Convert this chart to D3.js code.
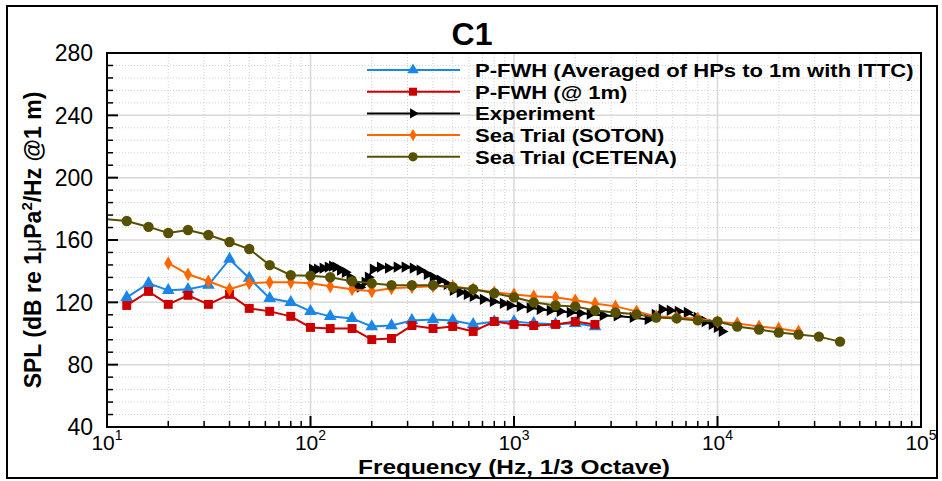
<!DOCTYPE html>
<html lang="en">
<head>
<meta charset="UTF-8">
<title>C1</title>
<script src="https://d3js.org/d3.v7.min.js"></script>
<style>
    body { margin: 0; background: #fff; }
    svg { display: block; font-family: "Liberation Sans", Arial, sans-serif; }
    .tick-label { font-size: 23px; fill: #000; }
    .legend text { font-size: 19px; font-weight: bold; }
</style>
</head>
<body>
<script>
// Third-octave band data
const fwhAvgFreq = [12.5, 16, 20, 25, 31.5, 40, 50, 63, 80, 100, 125, 160, 200, 250, 315, 400, 500, 630, 800, 1000, 1250, 1600, 2000, 2500];
const fwhAvgDb = [123.2, 132.2, 127.7, 128.4, 131, 147.7, 135.5, 122.6, 120, 114.2, 111, 109.7, 104.5, 105.1, 108.4, 109, 108.4, 105.8, 107.7, 107.7, 106.5, 106, 106.5, 104.5];

const fwh1mFreq = [12.5, 16, 20, 25, 31.5, 40, 50, 63, 80, 100, 125, 160, 200, 250, 315, 400, 500, 630, 800, 1000, 1250, 1600, 2000, 2500];
const fwh1mDb = [118, 127, 118.7, 124.5, 118.7, 125.1, 116.1, 114.2, 111, 103.9, 103.2, 103.2, 96.1, 96.8, 105.1, 103.2, 104.5, 101.3, 107.7, 105.8, 105.1, 105.8, 107.7, 105.8];

const expFreq = [102, 108, 115, 122, 128, 133, 140, 148, 156, 162, 169, 175, 185, 192, 203, 220, 241, 266, 291, 319, 345, 374, 400, 433, 469, 502, 543, 588, 629, 705, 789, 884, 956, 1070, 1198, 1342, 1503, 1683, 1884, 2110, 2363, 2736, 3205, 3843, 4552, 4929, 5335, 5842, 6397, 7085, 7932, 8684, 9399, 9948, 10520];
const expDb = [141.3, 141.3, 141.9, 142.6, 143.2, 142.6, 140.6, 139.3, 136.1, 132.9, 130.3, 129.7, 132.9, 136.1, 141.3, 142.6, 141.9, 142.6, 142.6, 141.9, 140.6, 138, 136.1, 134.2, 131.6, 127.7, 126.4, 125.1, 123.9, 121.9, 120.6, 119.3, 118, 117.4, 116.5, 115.5, 114.8, 114.2, 113.5, 113, 112.5, 111.6, 111.3, 110.3, 109, 112.2, 115.5, 114.8, 114.2, 113.5, 110.3, 107.7, 105.8, 103.9, 101.3];

const sotonFreq = [20, 25, 31.5, 40, 50, 63, 80, 100, 125, 160, 200, 250, 315, 400, 500, 630, 800, 1000, 1250, 1600, 2000, 2500, 3150, 4000, 5000, 6300, 8000, 10000, 12500, 16000, 20000, 25000];
const sotonDb = [145.1, 138, 133.5, 128.4, 132.2, 132.9, 132.9, 132.2, 130.3, 128.4, 127.1, 129, 129.7, 130.3, 130.3, 128.4, 126.4, 125.1, 123.9, 123.2, 121.3, 119.3, 117.4, 114.2, 111, 110.3, 109.7, 107.5, 106.5, 104.5, 103.2, 101.3];

const cetenaFreq = [8, 12.5, 16, 20, 25, 31.5, 40, 50, 63, 80, 100, 125, 160, 200, 250, 315, 400, 500, 630, 800, 1000, 1250, 1600, 2000, 2500, 3150, 4000, 5000, 6300, 8000, 10000, 12500, 16000, 20000, 25000, 31500, 40000];
const cetenaDb = [174.5, 172.2, 168.4, 164.5, 166.4, 163.2, 158.7, 154.2, 143.9, 137.4, 137.1, 136.1, 133.5, 132.2, 131, 131, 131, 129.7, 128.4, 125.8, 123.2, 120, 118, 117.4, 114.8, 113.5, 112.3, 110.3, 109.7, 108.4, 107.7, 104.5, 102.6, 100.6, 99.3, 98, 94.8];

const yTicks = [40, 80, 120, 160, 200, 240, 280];
const xDecades = [10, 100, 1000, 10000, 100000];

const width = 942;
const height = 481;
const margin = { top: 53, right: 21, bottom: 54, left: 107 };

const x = d3.scaleLog().domain([10, 100000]).range([margin.left, width - margin.right]);
const y = d3.scaleLinear().domain([40, 280]).range([height - margin.bottom, margin.top]);

const series = [
    { name: "P-FWH (Averaged of HPs to 1m with ITTC)", freq: fwhAvgFreq, db: fwhAvgDb, color: "#1a86e8", marker: "tri", size: 70 },
    { name: "P-FWH (@ 1m)", freq: fwh1mFreq, db: fwh1mDb, color: "#cc0000", marker: "square", size: 80 },
    { name: "Experiment", freq: expFreq, db: expDb, color: "#000000", marker: "arrow", size: 55 },
    { name: "Sea Trial (SOTON)", freq: sotonFreq, db: sotonDb, color: "#ff6600", marker: "diamond", size: 55 },
    { name: "Sea Trial (CETENA)", freq: cetenaFreq, db: cetenaDb, color: "#575000", marker: "circle", size: 85 }
];

const symbolType = {
    tri: d3.symbolTriangle,
    square: d3.symbolSquare,
    arrow: d3.symbolTriangle,
    diamond: d3.symbolDiamond,
    circle: d3.symbolCircle
};

const svg = d3.select("body").append("svg")
    .attr("width", width)
    .attr("height", height);

// outer frame
svg.append("rect")
    .attr("x", 7).attr("y", 6)
    .attr("width", 930).attr("height", 472)
    .attr("fill", "none").attr("stroke", "#000").attr("stroke-width", 2);

// title
svg.append("text")
    .attr("x", 472).attr("y", 45)
    .attr("text-anchor", "middle")
    .style("font-size", "32px").style("font-weight", "bold")
    .text("C1");

// grid: minor dotted, major solid
const yMinor = d3.range(40, 281, 8).filter(v => v % 40 !== 0);
const xMinor = [];
xDecades.slice(0, 4).forEach(d => { for (let k = 2; k <= 9; k++) xMinor.push(d * k); });

const grid = svg.append("g");
grid.selectAll(".ymin").data(yMinor).join("line")
    .attr("x1", x(10)).attr("x2", x(100000))
    .attr("y1", d => y(d)).attr("y2", d => y(d))
    .attr("stroke", "#cfcfcf").attr("stroke-dasharray", "1,2");
grid.selectAll(".xmin").data(xMinor).join("line")
    .attr("x1", d => x(d)).attr("x2", d => x(d))
    .attr("y1", y(40)).attr("y2", y(280))
    .attr("stroke", "#cfcfcf").attr("stroke-dasharray", "1,2");
grid.selectAll(".ymaj").data(yTicks).join("line")
    .attr("x1", x(10)).attr("x2", x(100000))
    .attr("y1", d => y(d)).attr("y2", d => y(d))
    .attr("stroke", "#d8d8d8").attr("stroke-width", 1.5);
grid.selectAll(".xmaj").data(xDecades).join("line")
    .attr("x1", d => x(d)).attr("x2", d => x(d))
    .attr("y1", y(40)).attr("y2", y(280))
    .attr("stroke", "#d8d8d8").attr("stroke-width", 1.5);

// clip to plot area
svg.append("clipPath").attr("id", "plot")
    .append("rect")
    .attr("x", x(10)).attr("y", y(280))
    .attr("width", x(100000) - x(10)).attr("height", y(40) - y(280));

const plot = svg.append("g").attr("clip-path", "url(#plot)");

const line = d3.line()
    .x(d => x(d[0]))
    .y(d => y(d[1]));

// series lines and markers
series.forEach(s => {
    const pts = s.freq.map((f, i) => [f, s.db[i]]);
    plot.append("path")
        .datum(pts)
        .attr("fill", "none")
        .attr("stroke", s.color)
        .attr("stroke-width", 2)
        .attr("d", line);
    plot.selectAll(null).data(pts).join("path")
        .attr("d", d3.symbol().type(symbolType[s.marker]).size(s.size))
        .attr("transform", d => `translate(${x(d[0])},${y(d[1])})` + (s.marker === "arrow" ? " rotate(90)" : ""))
        .attr("fill", s.color);
});

// axes: ticks pointing inward
const yAxis = svg.append("g").attr("transform", `translate(${x(10)},0)`);
yAxis.selectAll(".maj").data(yTicks).join("line")
    .attr("x1", 0).attr("x2", 11).attr("y1", d => y(d)).attr("y2", d => y(d))
    .attr("stroke", "#000").attr("stroke-width", 2);
yAxis.selectAll(".min").data(yMinor).join("line")
    .attr("x1", 0).attr("x2", 6).attr("y1", d => y(d)).attr("y2", d => y(d))
    .attr("stroke", "#000").attr("stroke-width", 1.5);
yAxis.selectAll("text").data(yTicks).join("text")
    .attr("class", "tick-label")
    .attr("x", -14).attr("y", d => y(d))
    .attr("dy", "0.36em")
    .attr("text-anchor", "end")
    .text(d => d);

const xAxis = svg.append("g").attr("transform", `translate(0,${y(40)})`);
xAxis.selectAll(".maj").data(xDecades).join("line")
    .attr("x1", d => x(d)).attr("x2", d => x(d)).attr("y1", 0).attr("y2", -11)
    .attr("stroke", "#000").attr("stroke-width", 2);
xAxis.selectAll(".min").data(xMinor).join("line")
    .attr("x1", d => x(d)).attr("x2", d => x(d)).attr("y1", 0).attr("y2", -6)
    .attr("stroke", "#000").attr("stroke-width", 1.5);
const xLabels = xAxis.selectAll("text").data(xDecades).join("text")
    .attr("class", "tick-label")
    .style("font-size", "21px")
    .attr("x", d => x(d)).attr("y", 23)
    .attr("text-anchor", "middle");
xLabels.append("tspan").text("10");
xLabels.append("tspan")
    .attr("dy", -10).style("font-size", "14px")
    .text(d => Math.round(Math.log10(d)));

// plot box
svg.append("rect")
    .attr("x", x(10)).attr("y", y(280))
    .attr("width", x(100000) - x(10)).attr("height", y(40) - y(280))
    .attr("fill", "none").attr("stroke", "#000").attr("stroke-width", 2);

// axis titles
svg.append("text")
    .attr("x", (x(10) + x(100000)) / 2).attr("y", 474)
    .attr("text-anchor", "middle")
    .style("font-size", "21px").style("font-weight", "bold")
    .attr("textLength", 312).attr("lengthAdjust", "spacingAndGlyphs")
    .text("Frequency (Hz, 1/3 Octave)");

const yTitle = svg.append("text")
    .attr("transform", `translate(41,${(y(40) + y(280)) / 2}) rotate(-90)`)
    .attr("text-anchor", "middle")
    .style("font-size", "23px").style("font-weight", "bold");
yTitle.append("tspan").text("SPL (dB re 1");
yTitle.append("tspan").style("font-weight", "normal").text("μ");
yTitle.append("tspan").text("Pa");
yTitle.append("tspan").attr("dy", -9).style("font-size", "15px").text("2");
yTitle.append("tspan").attr("dy", 9).text("/Hz @1 m)");

// legend (text slightly stretched to keep the tight row spacing)
const legend = svg.selectAll(".legend").data(series).join("g")
    .attr("class", "legend")
    .attr("transform", (d, i) => `translate(367,${70 + i * 21.7})`);
legend.append("line")
    .attr("x1", 0).attr("x2", 93)
    .attr("stroke", d => d.color).attr("stroke-width", 2);
legend.append("path")
    .attr("d", d => d3.symbol().type(symbolType[d.marker]).size(d.size * 0.8)())
    .attr("transform", d => "translate(46,0)" + (d.marker === "arrow" ? " rotate(90)" : ""))
    .attr("fill", d => d.color);
legend.append("text")
    .attr("transform", "translate(108,0) scale(1.16,1)")
    .attr("dy", "0.36em")
    .text(d => d.name);
</script>
</body>
</html>
